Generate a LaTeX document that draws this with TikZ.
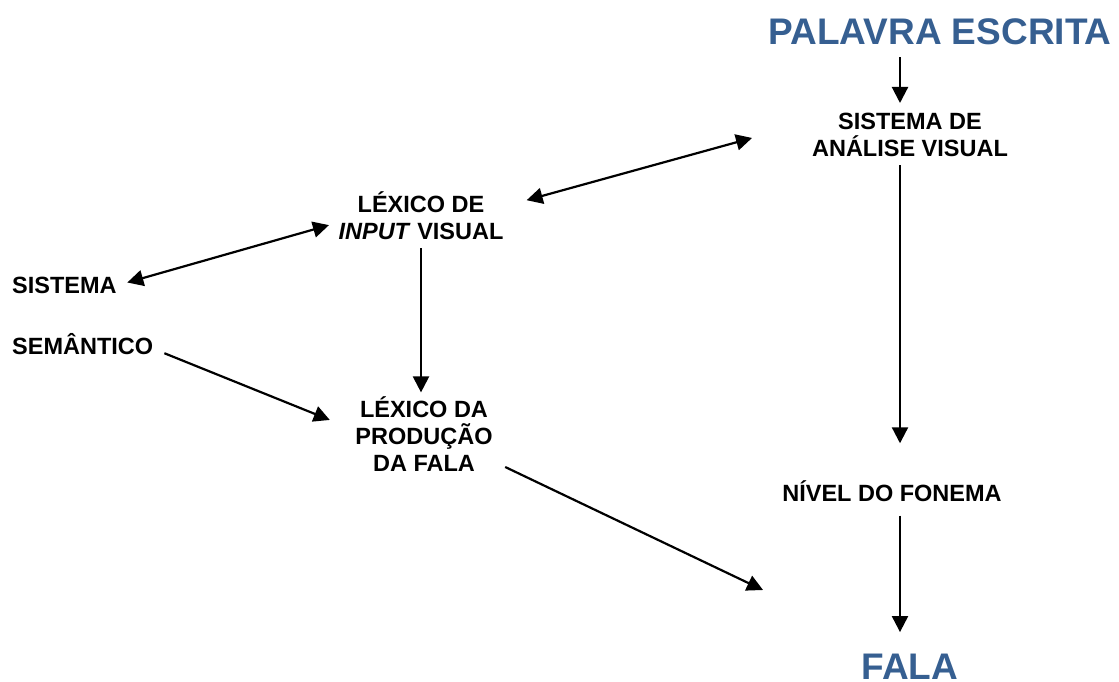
\documentclass[tikz,border=0pt]{standalone}
\usepackage{fontspec}
\setmainfont{Liberation Sans}
\usepackage{tikz}
\usetikzlibrary{arrows.meta, positioning, calc}

\definecolor{titleblue}{RGB}{54,95,145}

\tikzset{
  lbl/.style={font=\bfseries\fontsize{23.5}{27}\selectfont, align=center, inner sep=2pt},
  big/.style={font=\bfseries\fontsize{37}{44}\selectfont, text=titleblue, inner sep=2pt},
  arr/.style={line width=2.2pt, -{Triangle[length=16pt,width=16pt]}},
  darr/.style={line width=2.2pt, {Triangle[length=16pt,width=16pt]}-{Triangle[length=16pt,width=16pt]}}
}

\begin{document}
\begin{tikzpicture}[x=1pt, y=-1pt]
            \useasboundingbox (0,0) rectangle (1119,681);

            % Right column
            \coordinate (col) at (900,0);
            \node[big] (pal) at (940,32) {PALAVRA ESCRITA};
            \node[lbl] (ana) at (910,135) {SISTEMA DE\\ANÁLISE VISUAL};
            \node[lbl] (niv) at (892,491) {NÍVEL DO FONEMA};
            \node[big] (fala) at (910,667) {FALA};

            % Middle column
            \node[lbl] (lexin) at (421,216) {LÉXICO DE\\\textit{INPUT} VISUAL};
            \node[lbl] (lexpr) at (424,434) {LÉXICO DA\\PRODUÇÃO\\DA FALA};

            % Left side
            \node[lbl, anchor=base west] (sis) at (10,293) {SISTEMA};
            \node[lbl, anchor=base west] (sem) at (10,354) {SEMÂNTICO};

            \coordinate (out) at (763,590);

            % Connectors
            \draw[arr, shorten <=10pt, shorten >=8pt] (pal.south -| col) -- (ana.north -| col);
            \draw[arr, shorten <=6pt, shorten >=35pt] (ana.south -| col) -- (niv.north -| col);
            \draw[arr, shorten <=12pt, shorten >=20pt] (niv.south -| col) -- (fala.north -| col);
            \draw[arr, shorten <=6pt, shorten >=2pt] (lexin.south) -- (lexin.south |- lexpr.north);
            \draw[darr, shorten <=21.8pt, shorten >=60pt] ([yshift=10pt]lexin.east) -- ([yshift=13pt]ana.west);
            \draw[darr, shorten <=8.8pt, shorten >=7.7pt] (sis.east) -- ([yshift=-7pt]lexin.west);
            \draw[arr, shorten <=9.7pt, shorten >=25.3pt] ([yshift=-6pt]sem.east) -- ([yshift=4.6pt]lexpr.west);
            \draw[arr, shorten <=11.6pt] ([yshift=-28pt]lexpr.east) -- (out);
        \end{tikzpicture}
\end{document}
